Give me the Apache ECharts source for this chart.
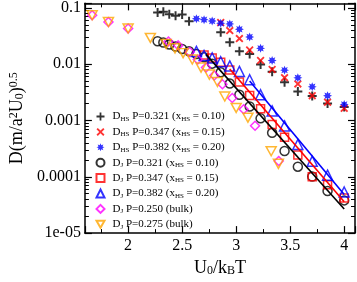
<!DOCTYPE html>
<html><head><meta charset="utf-8">
<script src="https://cdn.jsdelivr.net/npm/echarts@6/dist/echarts.min.js"></script>
<style>html,body{margin:0;padding:0;background:#fff}#c{width:357px;height:282px}</style>
</head><body><div id="c"></div>
<script>
// ---------- data ----------
const xTickValues = [2, 2.5, 3, 3.5, 4];
const yTickLabels = ['1e-05', '0.0001', '0.001', '0.01', '0.1'];

const hs321 = [[2.273,0.083],[2.326,0.085],[2.381,0.077],[2.439,0.072],[2.5,0.076],[2.564,0.058],[2.857,0.037],[2.941,0.0244],[3.03,0.017],[3.125,0.0151],[3.226,0.0099],[3.333,0.0073],[3.448,0.00477],[3.571,0.00326],[3.704,0.00273],[3.846,0.00201],[4.0,0.00173]];
const hs347 = [[2.857,0.0547],[2.941,0.0394],[3.03,0.0284],[3.125,0.0179],[3.226,0.0116],[3.333,0.00805],[3.448,0.00576],[3.571,0.00446],[3.704,0.00276],[3.846,0.00211],[4.0,0.00164]];
const hs382 = [[2.632,0.064],[2.703,0.0616],[2.778,0.0584],[2.857,0.0532],[2.941,0.0518],[3.03,0.0416],[3.125,0.0303],[3.226,0.0191],[3.333,0.0116],[3.448,0.00783],[3.571,0.00571],[3.704,0.00396],[3.846,0.00275],[4.0,0.00193]];
const j321 = [[2.273,0.0255],[2.326,0.0242],[2.381,0.0224],[2.439,0.0205],[2.5,0.0186],[2.564,0.0170],[2.632,0.0151],[2.703,0.0133],[2.778,0.0102],[2.857,0.00716],[2.941,0.00452],[3.03,0.00286],[3.125,0.00177],[3.226,0.00109],[3.333,0.000604],[3.448,0.000287],[3.571,0.000151],[3.704,0.000101],[3.846,0.0000558],[4.0,0.0000381]];
const j347 = [[2.703,0.0145],[2.778,0.0129],[2.857,0.0108],[2.941,0.00788],[3.03,0.00483],[3.125,0.00278],[3.226,0.00162],[3.333,0.000844],[3.448,0.000502],[3.571,0.000243],[3.704,0.0001],[3.846,0.0000724],[4.0,0.0000421]];
const j382 = [[2.632,0.01683],[2.703,0.01426],[2.778,0.0129],[2.857,0.01104],[2.941,0.0093],[3.03,0.00744],[3.125,0.00529],[3.226,0.00286],[3.333,0.00148],[3.448,0.0008],[3.571,0.000374],[3.704,0.000189],[3.846,0.000107],[4.0,0.0000537]];
const bulk250 = [[1.667,0.074],[1.818,0.056],[2.0,0.043],[2.373,0.0252],[2.464,0.0215],[2.570,0.0164],[2.645,0.0121],[2.721,0.0087],[2.797,0.00628],[2.873,0.00441],[2.964,0.0025],[3.07,0.00158],[3.175,0.000805],[3.394,0.000191]];
const bulk275 = [[1.667,0.074],[1.818,0.056],[2.0,0.043],[2.206,0.0292],[2.352,0.0229],[2.434,0.0191],[2.509,0.0157],[2.594,0.0121],[2.675,0.0087],[2.752,0.00653],[2.827,0.00483],[2.895,0.00267],[3.0,0.00167],[3.109,0.00112],[3.324,0.000284],[3.391,0.00017]];
const fit321 = [[2.72,0.0149],[4.0,0.0000267]];
const fit347 = [[2.94,0.0082],[4.0,0.000036]];
const fit382 = [[3.125,0.00502],[4.0,0.0000483]];

const names = ['D_HS P=0.321 (x_HS = 0.10)','D_HS P=0.347 (x_HS = 0.15)','D_HS P=0.382 (x_HS = 0.20)',
  'D_J P=0.321 (x_HS = 0.10)','D_J P=0.347 (x_HS = 0.15)','D_J P=0.382 (x_HS = 0.20)',
  'D_J P=0.250 (bulk)','D_J P=0.275 (bulk)'];

// ---------- styling ----------
const FONT = 'Liberation Serif';
function starPath(n, R, r){
  let d='';
  for(let k=0;k<2*n;k++){
    const a=Math.PI*k/n - Math.PI/2, rad=(k%2)?r:R;
    d+=(k?'L':'M')+(R+rad*Math.cos(a)).toFixed(2)+','+(R+rad*Math.sin(a)).toFixed(2);
  }
  return 'path://'+d+'Z';
}
const plusPath = 'path://M3.9,0H6.1V3.9H10V6.1H6.1V10H3.9V6.1H0V3.9H3.9Z';
const xPath = 'path://M0,1.6L1.6,0L5,3.4L8.4,0L10,1.6L6.6,5L10,8.4L8.4,10L5,6.6L1.6,10L0,8.4L3.4,5Z';
const triDown = 'path://M0,0L10,0L5,8.66Z';
const open = c => ({color:'rgba(0,0,0,0)', borderColor:c, borderWidth:1.5});

function sc(name, data, symbol, size, itemStyle){
  return {type:'scatter', name, data, symbol, symbolSize:size, itemStyle, emphasis:{disabled:true}};
}
function fit(data, color){
  return {type:'line', data, showSymbol:false, symbol:'none', silent:true,
    lineStyle:{color, width:1.6}, emphasis:{disabled:true}, z:3};
}

const chart = echarts.init(document.getElementById('c'));
const axisCommon = {
  axisLine:{show:true, onZero:false, lineStyle:{color:'#000', width:1.5}},
  axisTick:{show:true, inside:true, length:7, lineStyle:{color:'#000', width:1.2}},
  splitLine:{show:false}
};
const xBase = Object.assign({type:'value', min:1.6, max:4.1, splitNumber:5,
  minorTick:{show:true, splitNumber:2, length:4, lineStyle:{color:'#000', width:1}}}, axisCommon);
const yBase = Object.assign({type:'log', logBase:10, min:0.00001, max:0.12,
  minorTick:{show:true, splitNumber:9, length:4, lineStyle:{color:'#000', width:1}}}, axisCommon);
const yFmt = v => {
  const l = Math.log10(v), e = Math.round(l);
  return Math.abs(l-e) < 0.01 ? (yTickLabels[e+5] || '') : '';
};
const xFmt = v => xTickValues.some(t => Math.abs(t-v) < 1e-6) ? String(v) : '';

chart.setOption({
  animation:false,
  backgroundColor:'#fff',
  grid:{left:80, right:2, top:3.37, bottom:40},
  xAxis:[
    Object.assign({}, xBase, {position:'bottom',
      axisLabel:{show:true, margin:5, color:'#000', fontFamily:FONT, fontSize:16, formatter:xFmt, showMinLabel:false, showMaxLabel:false},
      name:'{n|U}{sub|0}{n|/k}{sub|B}{n|T}', nameLocation:'middle', nameGap:13,
      nameTextStyle:{fontFamily:FONT, fontSize:18, color:'#000', verticalAlign:'top',
        rich:{n:{fontFamily:FONT, fontSize:18, color:'#000', lineHeight:18},
              sub:{fontFamily:FONT, fontSize:12, color:'#000', lineHeight:8, verticalAlign:'bottom'}}}}),
    Object.assign({}, xBase, {position:'top', axisLabel:{show:false}})
  ],
  yAxis:[
    Object.assign({}, yBase, {position:'left',
      axisLabel:{show:true, margin:4, color:'#000', fontFamily:FONT, fontSize:16, formatter:yFmt, showMaxLabel:false},
      name:'{n|D(m/a}{sup|2}{n|U}{sub|0}{n|)}{sup|0.5}', nameLocation:'middle', nameGap:54,
      nameTextStyle:{fontFamily:FONT, fontSize:18, color:'#000',
        rich:{n:{fontFamily:FONT, fontSize:18, color:'#000', lineHeight:18},
              sub:{fontFamily:FONT, fontSize:12, color:'#000', lineHeight:8, verticalAlign:'bottom'},
              sup:{fontFamily:FONT, fontSize:12, color:'#000', lineHeight:8, verticalAlign:'top'}}}}),
    Object.assign({}, yBase, {position:'right', axisLabel:{show:false}})
  ],
  legend:{
    data:names, orient:'vertical', left:90.5, top:106, itemWidth:8, itemHeight:8, itemGap:3.9,
    selectedMode:false,
    formatter: n => '{n|' + n.replace(/_(HS|J)/g, '}{s|$1}{n|') + '}',
    textStyle:{fontFamily:FONT, fontSize:11, color:'#000', padding:[0,0,0,3],
      rich:{n:{fontFamily:FONT, fontSize:11, color:'#000', lineHeight:12},
            s:{fontFamily:FONT, fontSize:7, color:'#000', lineHeight:5, verticalAlign:'bottom'}}}
  },
  series:[
    sc(names[0], hs321, plusPath, 9, {color:'#000'}),
    sc(names[1], hs347, xPath, 8, {color:'#ff0000'}),
    sc(names[2], hs382, starPath(8,5,2.7), 9, {color:'#0000ff'}),
    sc(names[3], j321, 'circle', 9, open('#000')),
    fit(fit321, '#000'),
    sc(names[4], j347, 'rect', 8, open('#ff0000')),
    fit(fit347, '#ff0000'),
    sc(names[5], j382, 'triangle', 10, open('#0000ff')),
    fit(fit382, '#0000ff'),
    sc(names[6], bulk250, 'diamond', 9, open('#ff00ff')),
    sc(names[7], bulk275, triDown, [10,9], open('#ffa500'))
  ]
});
</script>
</body></html>
